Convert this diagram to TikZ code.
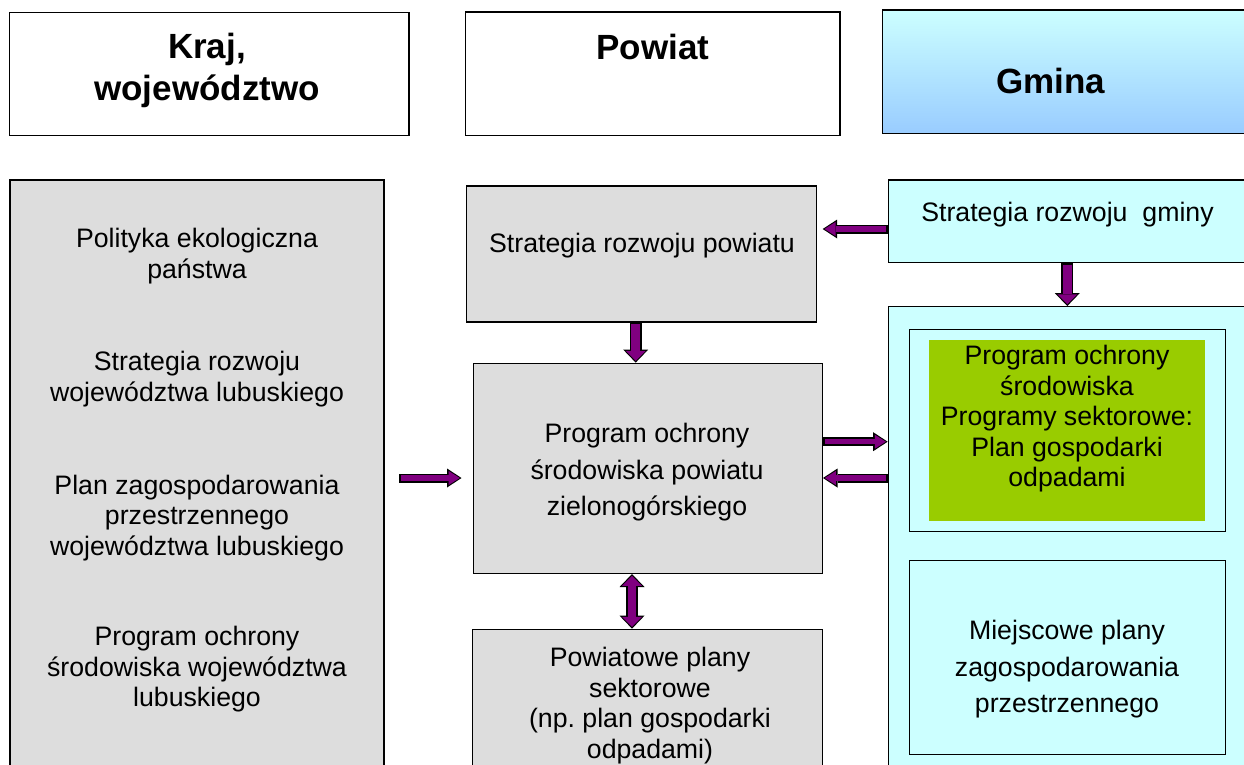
\documentclass[tikz,border=0pt]{standalone}
\usepackage{fontspec}
\setmainfont{Liberation Sans}
\frenchspacing
\usetikzlibrary{arrows.meta}
\definecolor{boxgray}{HTML}{DDDDDD}
\definecolor{lightcyan}{HTML}{CCFFFF}
\definecolor{skyblue}{HTML}{99CCFF}
\definecolor{leafgreen}{HTML}{99CC00}
\definecolor{arrowpurple}{HTML}{800080}

\tikzset{
  box/.style={draw=black, line width=1.4pt, inner sep=0pt},
  head/.style={font=\fontsize{35}{42}\selectfont\bfseries, align=center, inner sep=0pt},
  txt/.style={font=\fontsize{26.7}{30.5}\selectfont, align=center, inner sep=0pt},
  txtwide/.style={font=\fontsize{26.7}{36.5}\selectfont, align=center, inner sep=0pt},
  harrow/.style={draw=arrowpurple, line width=5.5pt, shorten >=1.8pt, shorten <=1.5pt,
    -{Triangle[length=11pt,width=14pt,line width=0pt]},
    preaction={draw=black, line width=9pt, shorten >=0pt, shorten <=0pt,
      -{Triangle[length=14.5pt,width=19pt,line width=0pt]}}},
  varrow/.style={draw=arrowpurple, line width=8.5pt, shorten >=1.8pt, shorten <=1.5pt,
    -{Triangle[length=10pt,width=20pt,line width=0pt]},
    preaction={draw=black, line width=12pt, shorten >=0pt, shorten <=0pt,
      -{Triangle[length=13pt,width=25pt,line width=0pt]}}},
  dvarrow/.style={draw=arrowpurple, line width=8.5pt, shorten >=1.8pt, shorten <=1.8pt,
    {Triangle[length=10pt,width=20pt,line width=0pt]}-{Triangle[length=10pt,width=20pt,line width=0pt]},
    preaction={draw=black, line width=12pt, shorten >=0pt, shorten <=0pt,
      {Triangle[length=13pt,width=25pt,line width=0pt]}-{Triangle[length=13pt,width=25pt,line width=0pt]}}}
}

\begin{document}
\begin{tikzpicture}[x=1pt, y=-1pt]
  \useasboundingbox (0,0) rectangle (1244,764);
  \clip (0,0) rectangle (1244,764);

  % headers
  \node[box, minimum width=399.7pt, minimum height=123.4pt] (hkraj) at (209.2,74) {};
  \node[box, minimum width=374.3pt, minimum height=123.7pt] (hpow) at (652.9,73.9) {};
  \node[box, top color=lightcyan, bottom color=skyblue, minimum width=377.7pt, minimum height=123.3pt] (hgmina) at (1071.2,71.7) {};
  \node[head] (tkraj) at (207,70) {Kraj,\\województwo};
  \node[head, anchor=base] (tpow) at (653,59.3) {Powiat};
  \node[head, anchor=base] (tgmina) at (1050.8,93.3) {Gmina};

  % kraj, wojewodztwo
  \node[box, fill=boxgray, minimum width=374pt, minimum height=620pt] (kraj) at (197,490) {};
  \node[txt] (kp1) at (197,256) {Polityka ekologiczna\\państwa};
  \node[txt] (kp2) at (197,379) {Strategia rozwoju\\województwa lubuskiego};
  \node[txt] (kp3) at (197,518) {Plan zagospodarowania\\przestrzennego\\województwa lubuskiego};
  \node[txt] (kp4) at (197,669.5) {Program ochrony\\środowiska województwa\\lubuskiego};

  % powiat
  \node[box, fill=boxgray, minimum width=349.8pt, minimum height=136pt] (pstrat) at (641.6,254) {};
  \node[txt] (tpstrat) at (642,246) {Strategia rozwoju powiatu};
  \node[box, fill=boxgray, minimum width=349pt, minimum height=210pt] (pocs) at (647.8,468.3) {};
  \node[txtwide] (tpocs) at (647,472.5) {Program ochrony\\środowiska powiatu\\zielonogórskiego};
  \node[box, fill=boxgray, minimum width=350pt, minimum height=170.7pt] (psect) at (647.7,714.7) {};
  \node[txt] (tpsect) at (650,705.5) {Powiatowe plany\\sektorowe\\(np. plan gospodarki\\odpadami)};

  % gmina
  \node[box, fill=lightcyan, minimum width=371.7pt, minimum height=82.3pt] (gstrat) at (1074.2,221.2) {};
  \node[txt] (tgstrat) at (1067.5,215) {Strategia rozwoju\ \ gminy};
  \node[box, fill=lightcyan, minimum width=371.7pt, minimum height=493.3pt] (gmbox) at (1074.2,553.4) {};
  \node[box, minimum width=316.4pt, minimum height=202.4pt] (gin1) at (1067.5,430.5) {};
  \node[fill=leafgreen, inner sep=0pt, minimum width=276pt, minimum height=180.7pt] (ggreen) at (1067,430.4) {};
  \node[txt] (tggreen) at (1067,419) {Program ochrony\\środowiska\\Programy sektorowe:\\Plan gospodarki\\odpadami};
  \node[box, minimum width=316.4pt, minimum height=194pt] (gin2) at (1067.5,657.7) {};
  \node[txtwide] (tgin2) at (1067,669.5) {Miejscowe plany\\zagospodarowania\\przestrzennego};

  % arrows
  \coordinate (a1) at (822.7,229);
  \coordinate (k1) at (399,478);
  \coordinate (k2) at (461.5,478);
  \draw[harrow] (gstrat.west |- a1) -- (a1);
  \draw[varrow] (pstrat.south -| 635.7,0) -- (pocs.north -| 635.7,0);
  \draw[dvarrow] (632,576 |- pocs.south) -- (psect.north -| 632,0);
  \draw[harrow] (k1) -- (k2);
  \draw[harrow] (pocs.east |- 0,441.7) -- (gmbox.west |- 0,441.7);
  \draw[harrow] (gmbox.west |- 0,478) -- (pocs.east |- 0,478);
  \draw[varrow] (gstrat.south -| 1067.3,0) -- (gmbox.north -| 1067.3,0);
\end{tikzpicture}
\end{document}
